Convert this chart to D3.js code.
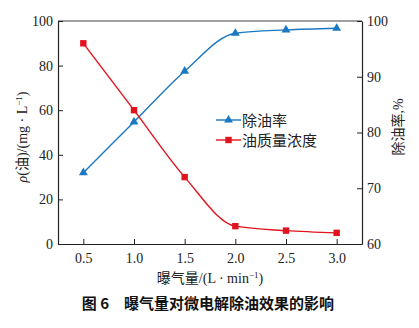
<!DOCTYPE html>
<html><head><meta charset="utf-8">
<script src="https://cdn.jsdelivr.net/npm/d3@7"></script>
<style>
html,body{margin:0;padding:0;background:#fff;}
svg{display:block;}
</style></head>
<body>
<svg id="c" width="419" height="328"></svg>
<script>
const aeration = [0.5, 1.0, 1.5, 2.0, 2.5, 3.0];
const removalRate = [72.8, 81.9, 91.0, 97.8, 98.4, 98.7];
const oilConc = [90, 60, 30, 8, 6, 5];
const xTicks = [0.5, 1.0, 1.5, 2.0, 2.5, 3.0];
const yLeftTicks = [0, 20, 40, 60, 80, 100];
const yRightTicks = [60, 70, 80, 90, 100];
const seriesNames = ["除油率", "油质量浓度"];

const svg = d3.select("#c");
const L = 58, R = 362, T = 21, B = 244;
const x = d3.scaleLinear().domain([0.25, 3.25]).range([L, R]);
const yL = d3.scaleLinear().domain([0, 100]).range([B, T]);
const yR = d3.scaleLinear().domain([60, 100]).range([B, T]);
const blue = "#1b78c2", red = "#e1131d";
const serif = "'Liberation Serif','Times New Roman',serif";
const cjk = "'Noto Sans CJK SC','Liberation Serif',sans-serif";

// top frame line
svg.append("line").attr("x1", L).attr("x2", R).attr("y1", T).attr("y2", T)
  .attr("stroke", "#808080").attr("stroke-width", 1.5);

const bottom = svg.append("g").attr("transform", `translate(0,${B})`)
  .call(d3.axisBottom(x).tickValues(xTicks).tickFormat(d3.format(".1f")).tickSizeInner(-5).tickSizeOuter(0).tickPadding(9));
const left = svg.append("g").attr("transform", `translate(${L},0)`)
  .call(d3.axisLeft(yL).tickValues(yLeftTicks).tickSizeInner(-5).tickSizeOuter(0).tickPadding(5));
const right = svg.append("g").attr("transform", `translate(${R},0)`)
  .call(d3.axisRight(yR).tickValues(yRightTicks).tickSizeInner(-5).tickSizeOuter(0).tickPadding(5));
[bottom, left, right].forEach(g => {
  g.select(".domain").attr("stroke", "#222").attr("stroke-width", 1.2);
  g.selectAll(".tick line").attr("stroke", "#222");
  g.selectAll("text").attr("font-family", serif).attr("font-size", 14).attr("fill", "#222");
});

// lines
const lineBlue = d3.line().x((d, i) => x(aeration[i])).y(d => yR(d)).curve(d3.curveMonotoneX);
const lineRed = d3.line().x((d, i) => x(aeration[i])).y(d => yL(d)).curve(d3.curveMonotoneX);
svg.append("path").attr("d", lineBlue(removalRate)).attr("fill", "none").attr("stroke", blue).attr("stroke-width", 1.4);
svg.append("path").attr("d", lineRed(oilConc)).attr("fill", "none").attr("stroke", red).attr("stroke-width", 1.4);

const tri = d3.symbol().type(d3.symbolTriangle).size(34);
svg.selectAll(".tb").data(removalRate).enter().append("path")
  .attr("d", tri).attr("fill", blue)
  .attr("transform", (d, i) => `translate(${x(aeration[i])},${yR(d)})`);
svg.selectAll(".sq").data(oilConc).enter().append("rect")
  .attr("x", (d, i) => x(aeration[i]) - 3.2).attr("y", d => yL(d) - 3.2)
  .attr("width", 6.4).attr("height", 6.4).attr("fill", red);

// legend
const lg = svg.append("g");
const legItems = [{name: seriesNames[0], c: blue, t: "tri", y: 120}, {name: seriesNames[1], c: red, t: "sq", y: 140}];
legItems.forEach(it => {
  lg.append("line").attr("x1", 216).attr("x2", 241).attr("y1", it.y).attr("y2", it.y).attr("stroke", it.c).attr("stroke-width", 1.4);
  if (it.t === "tri") lg.append("path").attr("d", tri).attr("fill", it.c).attr("transform", `translate(228.5,${it.y})`);
  else lg.append("rect").attr("x", 225.3).attr("y", it.y - 3.2).attr("width", 6.4).attr("height", 6.4).attr("fill", it.c);
  lg.append("text").attr("x", 242).attr("y", it.y + 5.5).attr("font-family", cjk).attr("font-size", 15).attr("fill", "#222").text(it.name);
});

// axis titles
const xt = svg.append("text").attr("x", 210).attr("y", 283).attr("text-anchor", "middle")
  .attr("font-family", serif).attr("font-size", 14).attr("fill", "#222");
xt.append("tspan").attr("font-family", cjk).text("曝气量");
xt.append("tspan").text("/(L · min");
xt.append("tspan").attr("dy", -5).attr("font-size", 9).text("−1");
xt.append("tspan").attr("dy", 5).text(")");

const yt = svg.append("text").attr("transform", "translate(27,137) rotate(-90)").attr("text-anchor", "middle")
  .attr("font-family", serif).attr("font-size", 14).attr("fill", "#222");
yt.append("tspan").attr("font-style", "italic").text("ρ");
yt.append("tspan").text("(");
yt.append("tspan").attr("font-family", cjk).text("油");
yt.append("tspan").text(")/(mg · L");
yt.append("tspan").attr("dy", -5).attr("font-size", 9).text("−1");
yt.append("tspan").attr("dy", 5).text(")");

const rt = svg.append("text").attr("transform", "translate(403,127) rotate(-90)").attr("text-anchor", "middle")
  .attr("font-family", cjk).attr("font-size", 14).attr("fill", "#222");
rt.append("tspan").text("除油率");
rt.append("tspan").attr("font-family", serif).text(",%");

// caption
svg.append("text").attr("x", 208).attr("y", 309).attr("text-anchor", "middle")
  .attr("font-family", cjk).attr("font-weight", "bold").attr("font-size", 15).attr("fill", "#111")
  .attr("xml:space", "preserve").text("图 6　曝气量对微电解除油效果的影响");
</script>
</body></html>
